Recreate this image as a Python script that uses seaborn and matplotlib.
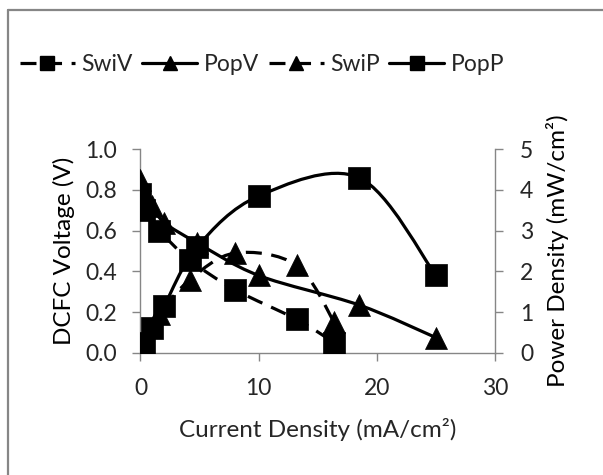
import numpy as np
import pandas as pd
import matplotlib
matplotlib.use("Agg")
import matplotlib.pyplot as plt
import seaborn as sns
from matplotlib.path import Path
from matplotlib.patches import PathPatch
from matplotlib.lines import Line2D

# data
swi_x = [0.0, 0.3, 1.6, 4.2, 8.0, 13.2, 16.4]
swi_v = [0.78, 0.70, 0.60, 0.455, 0.31, 0.165, 0.05]
swi_p = [0.0, 0.2, 0.95, 1.8, 2.45, 2.15, 0.75]

pop_x = [0.0, 0.3, 1.0, 2.0, 4.8, 10.0, 18.5, 25.0]
pop_v = [0.85, 0.78, 0.72, 0.64, 0.54, 0.38, 0.235, 0.075]
pop_p = [0.0, 0.25, 0.6, 1.15, 2.6, 3.85, 4.3, 1.9]

x_ticks = [0, 10, 20, 30]
v_ticks = [0.0, 0.2, 0.4, 0.6, 0.8, 1.0]
p_ticks = [0, 1, 2, 3, 4, 5]

sns.set_style("ticks")
plt.rcParams["font.family"] = ["Lato", "DejaVu Sans"]
FS = 16.5
LFS = 17.5
GREY = "#868686"
TXT = "#262626"
DASH = (0, (5, 3))
LW = 2.3


def smooth_path(x, y):
    """catmull-rom style bezier path through the points (like excel smoothing)"""
    pts = np.column_stack([x, y])
    n = len(pts)
    verts = [pts[0]]
    codes = [Path.MOVETO]
    for i in range(n - 1):
        p0 = pts[i - 1] if i > 0 else pts[i]
        p1 = pts[i]
        p2 = pts[i + 1]
        p3 = pts[i + 2] if i + 2 < n else pts[i + 1]
        c1 = p1 + (p2 - p0) / 6.0
        c2 = p2 - (p3 - p1) / 6.0
        verts += [c1, c2, p2]
        codes += [Path.CURVE4] * 3
    return Path(verts, codes)


def draw_series(ax, x, y, marker, ls):
    patch = PathPatch(smooth_path(x, y), fill=False, edgecolor="black",
                      lw=LW, linestyle=ls, capstyle="butt", zorder=3)
    ax.add_patch(patch)
    df = pd.DataFrame({"x": x, "y": y})
    sns.scatterplot(data=df, x="x", y="y", marker=marker, s=250,
                    color="black", edgecolor="black", linewidth=0.5,
                    ax=ax, zorder=4, legend=False)


fig = plt.figure(figsize=(6.03, 4.75), dpi=100)
ax = fig.add_axes([0.233, 0.257, 0.588, 0.429])
ax2 = ax.twinx()

draw_series(ax, swi_x, swi_v, "s", DASH)
draw_series(ax, pop_x, pop_v, "^", "-")
draw_series(ax2, swi_x, swi_p, "^", DASH)
draw_series(ax2, pop_x, pop_p, "s", "-")

ax.set_xlim(0, 30)
ax.set_ylim(0, 1.0)
ax2.set_ylim(0, 5)
ax.set_xticks(x_ticks)
ax.set_yticks(v_ticks)
ax.set_yticklabels([f"{t:.1f}" for t in v_ticks])
ax2.set_yticks(p_ticks)

for a in (ax, ax2):
    for s in a.spines.values():
        s.set_color(GREY)
        s.set_linewidth(1.0)
    a.spines["top"].set_visible(False)
    a.tick_params(colors=GREY, labelcolor=TXT, labelsize=FS,
                  length=6, width=1.0, direction="out")
ax.tick_params(axis="y", pad=11)
ax.tick_params(axis="x", pad=12)
ax2.tick_params(axis="y", pad=12)
ax.spines["right"].set_visible(False)
ax2.spines["left"].set_visible(False)
ax2.spines["bottom"].set_visible(False)

ax.set_xlabel("Current Density (mA/cm²)", fontsize=LFS, color=TXT, labelpad=14)
ax.set_ylabel("DCFC Voltage (V)", fontsize=LFS, color="black", labelpad=7)
ax2.set_ylabel("Power Density (mW/cm²)", fontsize=LFS, color="black", labelpad=9)

handles = [
    Line2D([], [], color="black", lw=LW, ls=DASH, marker="s", ms=10),
    Line2D([], [], color="black", lw=LW, ls="-", marker="^", ms=10),
    Line2D([], [], color="black", lw=LW, ls=DASH, marker="^", ms=10),
    Line2D([], [], color="black", lw=LW, ls="-", marker="s", ms=10),
]
fig.legend(handles, ["SwiV", "PopV", "SwiP", "PopP"], loc="center",
           bbox_to_anchor=(0.435, 0.865), ncol=4, frameon=False,
           fontsize=FS, handlelength=2.4, columnspacing=0.4,
           handletextpad=0.3)

# outer chart border
fig.add_artist(Line2D([8 / 603, 8 / 603], [0, 1 - 10 / 475], color=GREY,
                      lw=1.6, transform=fig.transFigure))
fig.add_artist(Line2D([8 / 603, 1], [1 - 10 / 475, 1 - 10 / 475], color=GREY,
                      lw=1.6, transform=fig.transFigure))

fig.savefig("out.png", dpi=100)
